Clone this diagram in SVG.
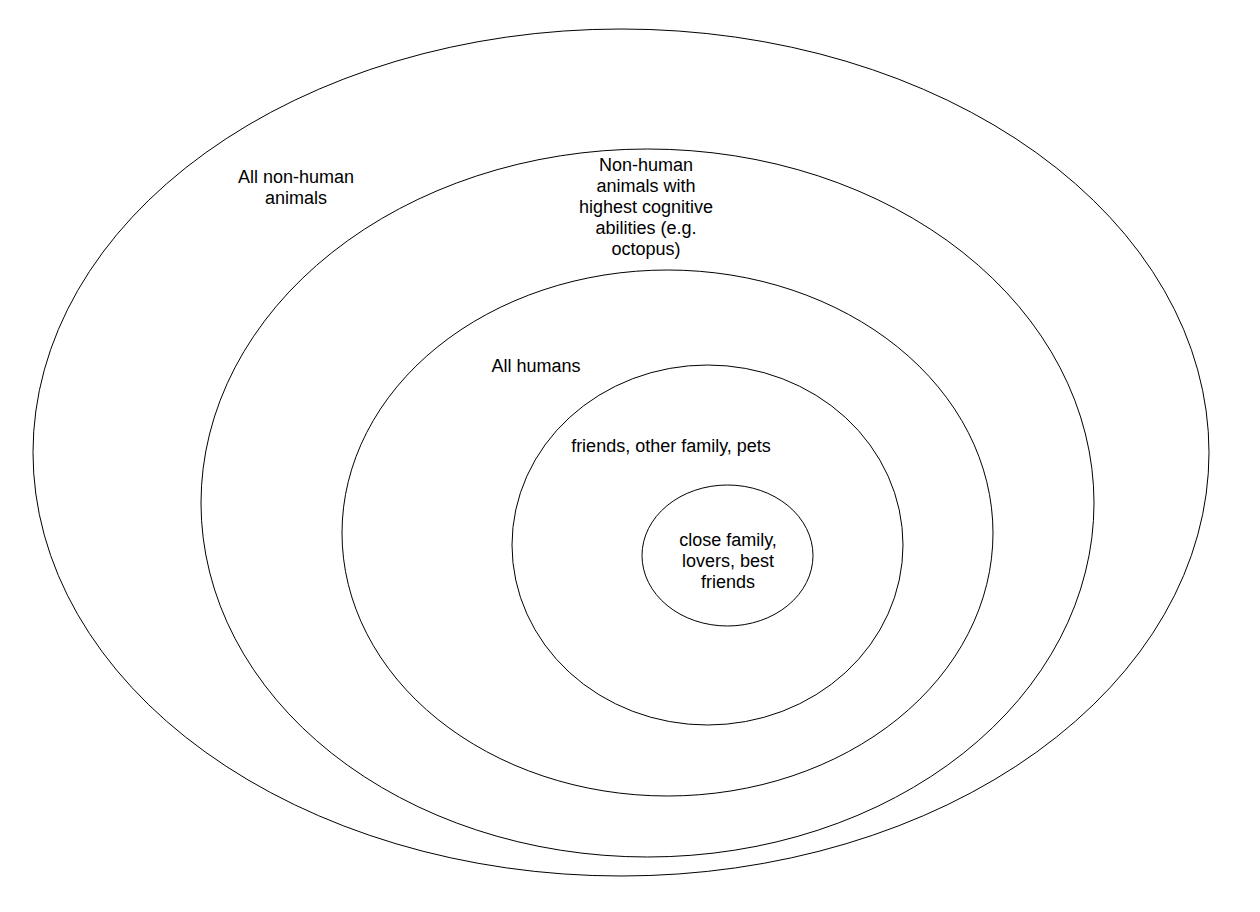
<svg xmlns="http://www.w3.org/2000/svg" width="1260" height="912" viewBox="0 0 1260 912">
<style>
.e{fill:none;stroke:#000;stroke-width:1}
.t{font-family:"Liberation Sans",Arial,sans-serif;font-size:18px;fill:#000;text-anchor:middle}
</style>
<rect width="1260" height="912" fill="#fff"/>
<g id="n1"><ellipse class="e" cx="621" cy="452.5" rx="588" ry="423.5"/><text class="t" x="296" y="183">All non-human</text><text class="t" x="296" y="204">animals</text></g>
<g id="n2"><ellipse class="e" cx="647.5" cy="503" rx="446.5" ry="354"/><text class="t" x="646" y="171">Non-human</text><text class="t" x="646" y="192">animals with</text><text class="t" x="646" y="213">highest cognitive</text><text class="t" x="646" y="234">abilities (e.g.</text><text class="t" x="646" y="255">octopus)</text></g>
<g id="n3"><ellipse class="e" cx="667.5" cy="533" rx="325.5" ry="263"/><text class="t" x="536" y="372">All humans</text></g>
<g id="n4"><ellipse class="e" cx="707.5" cy="545" rx="195.5" ry="180"/><text class="t" x="671" y="452">friends, other family, pets</text></g>
<g id="n5"><ellipse class="e" cx="727.5" cy="555.5" rx="85.5" ry="70.5"/><text class="t" x="728" y="546">close family,</text><text class="t" x="728" y="567">lovers, best</text><text class="t" x="728" y="588">friends</text></g>
<g id="connectors"/>
</svg>
